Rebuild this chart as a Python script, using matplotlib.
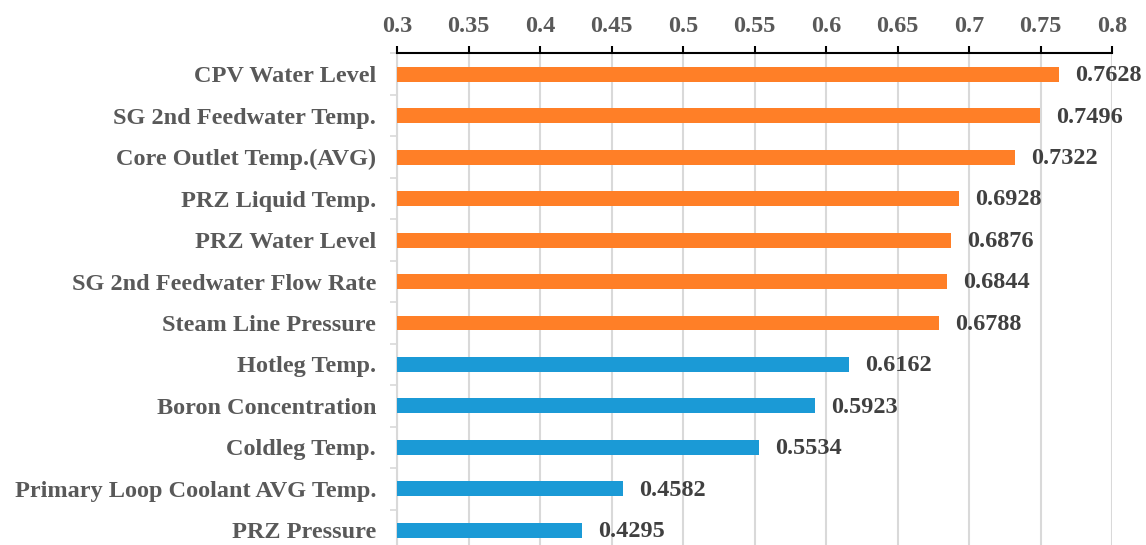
import numpy as np
import matplotlib.pyplot as plt
from matplotlib.ticker import MultipleLocator, FixedLocator

plt.rcParams['font.family'] = ['Liberation Serif', 'DejaVu Serif']
plt.rcParams['font.weight'] = 'bold'

# top to bottom
labels = ['CPV Water Level', 'SG 2nd Feedwater Temp.', 'Core Outlet Temp.(AVG)',
          'PRZ Liquid Temp.', 'PRZ Water Level', 'SG 2nd Feedwater Flow Rate',
          'Steam Line Pressure', 'Hotleg Temp.', 'Boron Concentration',
          'Coldleg Temp.', 'Primary Loop Coolant AVG Temp.', 'PRZ Pressure']
values = [0.7628, 0.7496, 0.7322, 0.6928, 0.6876, 0.6844,
          0.6788, 0.6162, 0.5923, 0.5534, 0.4582, 0.4295]
n_top = 7  # first 7 highlighted in orange

orange = '#FF7F27'
blue = '#1B9AD6'
colors = [orange if i < n_top else blue for i in range(len(values))]
fs = 17.5

fig = plt.figure(figsize=(11.46, 5.45), dpi=100)
ax = fig.add_axes([397/1146, 1 - 551/545, (1112-397)/1146, (551-53.5)/545])

y = np.arange(len(values))
base = 0.3
ax.barh(y, np.array(values) - base, left=base, height=0.36, color=colors, zorder=3)

for yi, v in zip(y, values):
    ax.annotate(f'{v:.4f}', (v, yi), xytext=(11.5, -1), textcoords='offset points',
                ha='left', va='center', fontsize=fs, fontweight='bold', color='#404040')

ax.set_xlim(0.3, 0.8)
ax.set_ylim(len(values) - 0.5, -0.5)
ax.xaxis.set_major_locator(MultipleLocator(0.05))
ax.xaxis.set_major_formatter(plt.FuncFormatter(lambda x, p: f'{x:g}'))
ax.xaxis.tick_top()
ax.grid(axis='x', color='#D9D9D9', linewidth=1.5, zorder=0)

ax.set_yticks(y)
ax.set_yticklabels(labels)
ax.yaxis.set_minor_locator(FixedLocator(np.arange(-0.5, len(values), 1.0)))

ax.tick_params(axis='x', which='major', direction='out', length=5, width=1.5,
               color='black', pad=7, labelsize=fs, labelcolor='#595959')
ax.tick_params(axis='y', which='major', length=0, pad=15, labelsize=fs, labelcolor='#595959')
ax.tick_params(axis='y', which='minor', length=5, width=1.2, color='#D9D9D9')

for s in ['right', 'bottom']:
    ax.spines[s].set_visible(False)
ax.spines['top'].set_color('black')
ax.spines['top'].set_linewidth(1.5)
ax.spines['left'].set_color('#D9D9D9')
ax.spines['left'].set_linewidth(1.5)

for lab in ax.get_xticklabels() + ax.get_yticklabels():
    lab.set_fontweight('bold')

fig.savefig('out.png', dpi=100)
